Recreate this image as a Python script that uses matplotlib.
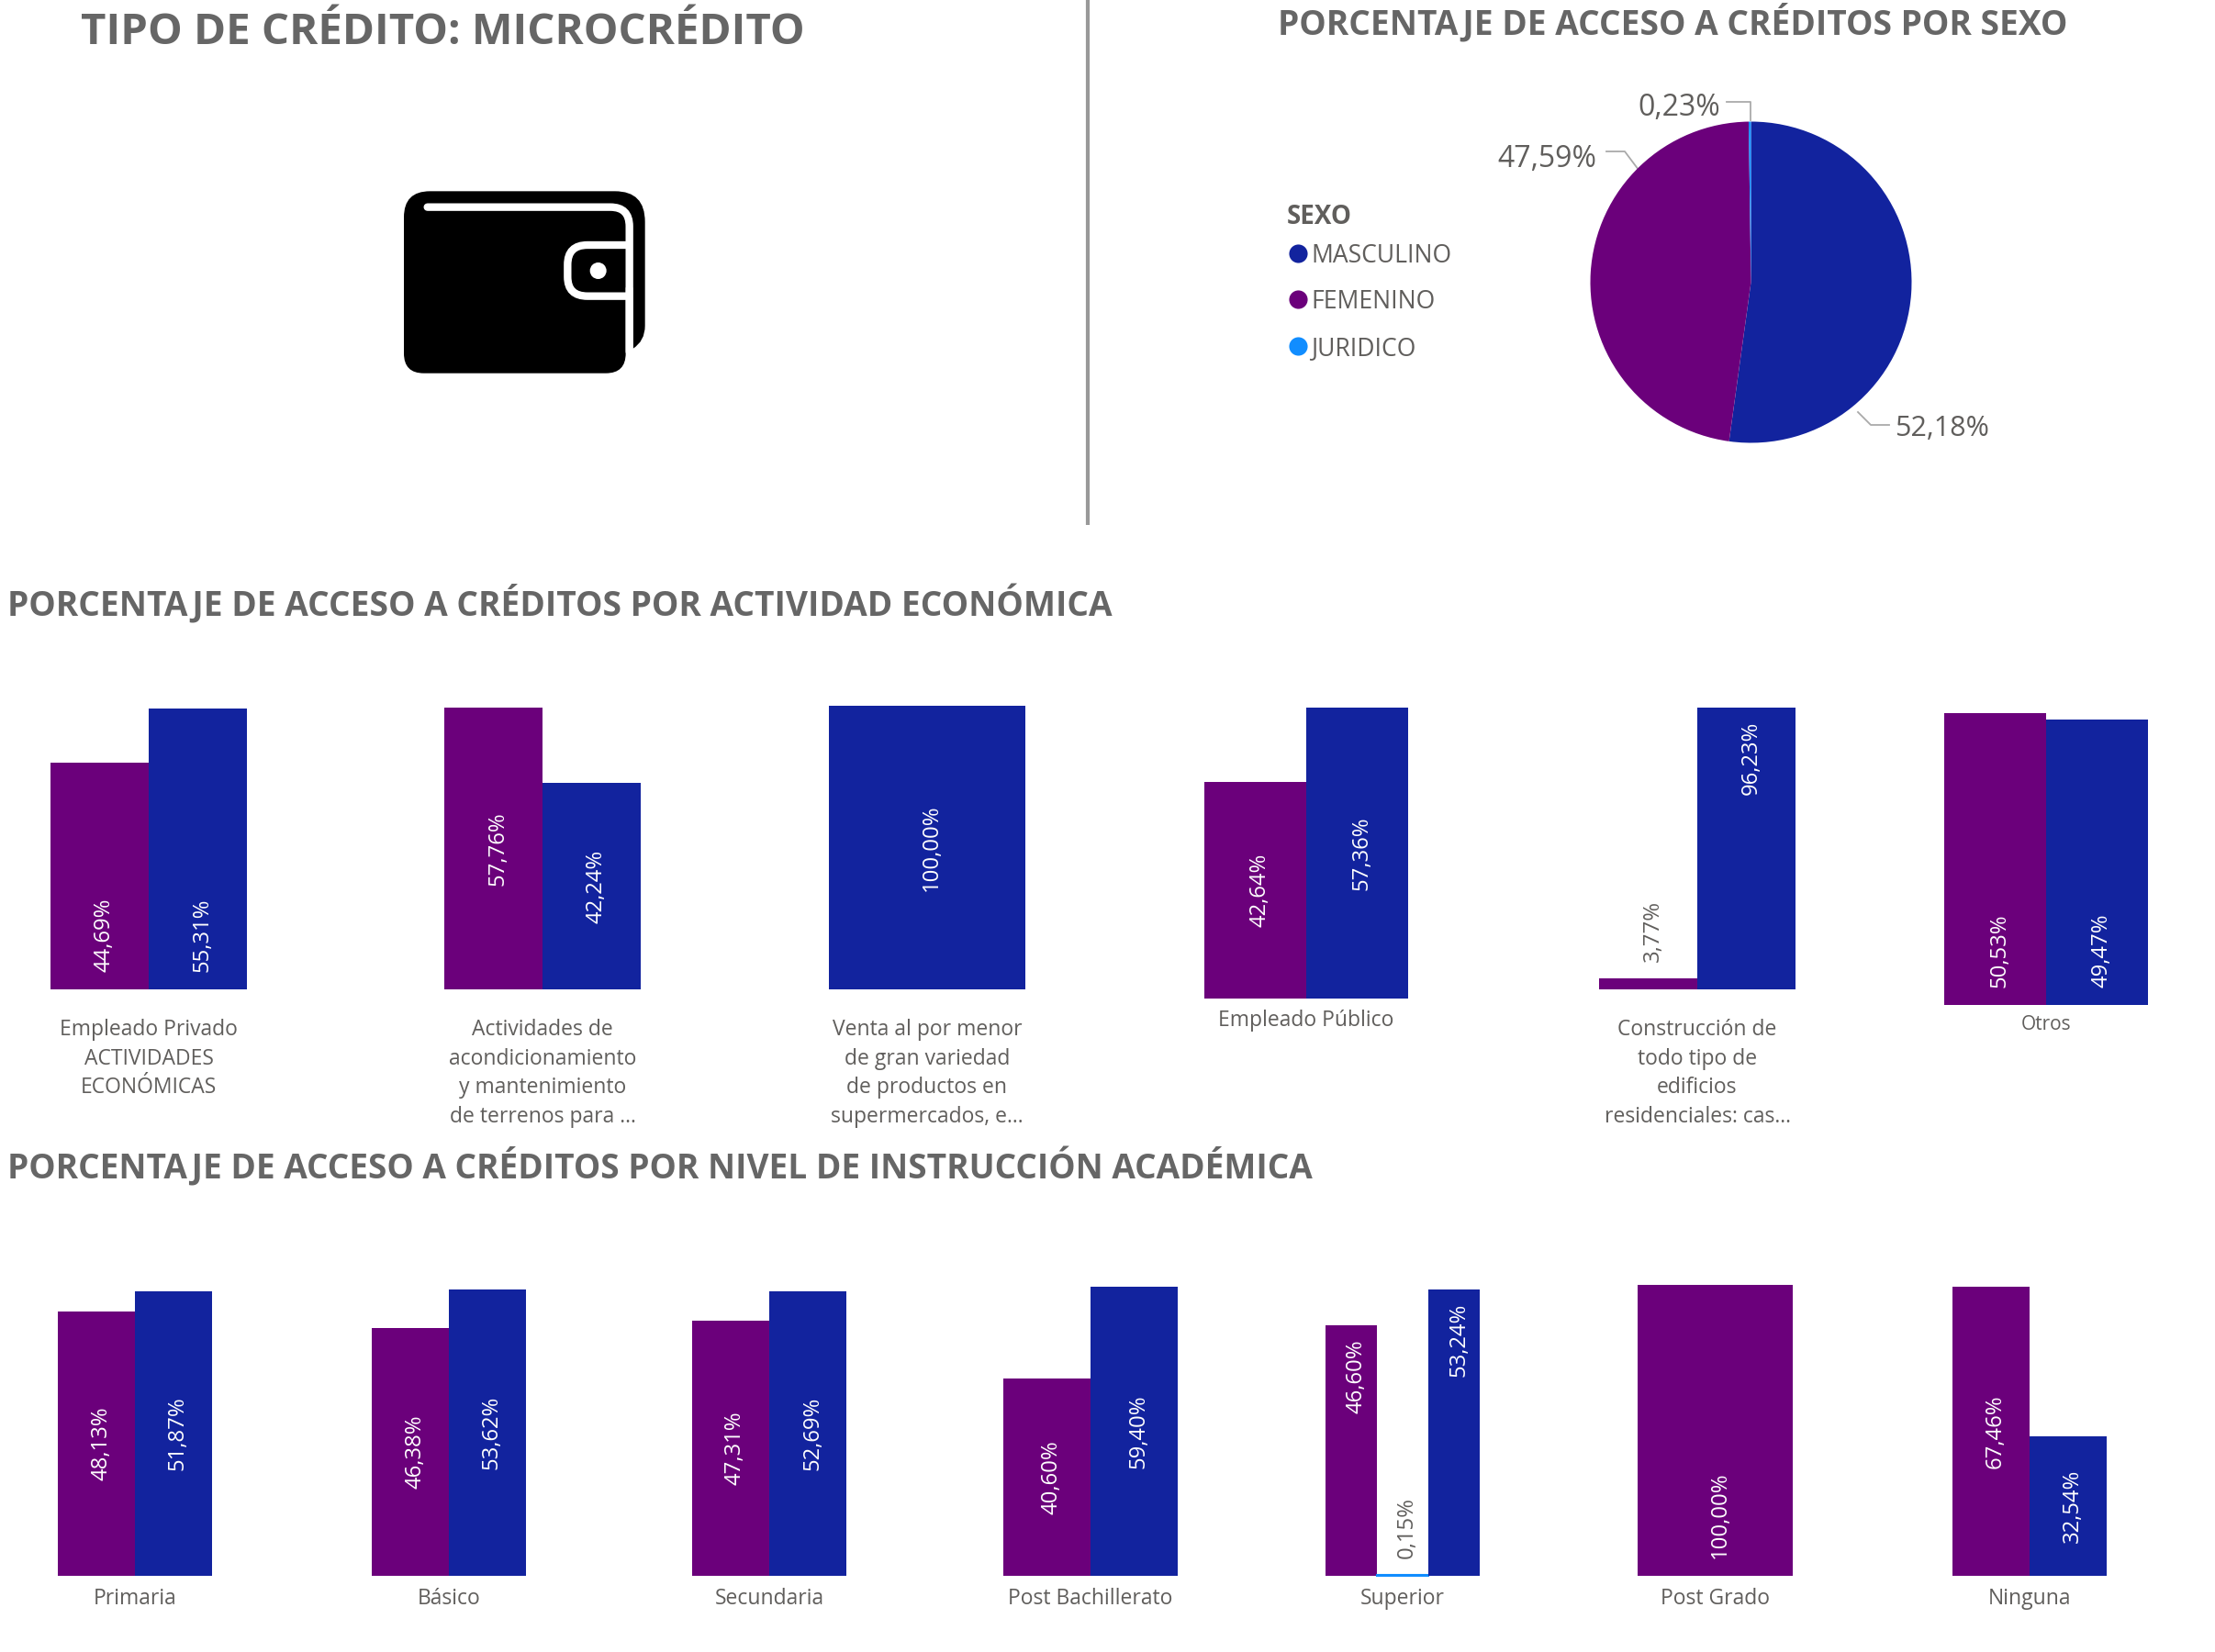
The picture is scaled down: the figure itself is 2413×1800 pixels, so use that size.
import numpy as np
import matplotlib
matplotlib.use('Agg')
import matplotlib.pyplot as plt
from matplotlib.path import Path
from matplotlib.patches import PathPatch, Circle

W, H = 2413, 1800
plt.rcParams['font.family'] = ['Open Sans', 'DejaVu Sans']

MASC = '#12239E'
FEM = '#6B007B'
JUR = '#118DFF'
GRIS = '#605E5C'
TITULO = '#666666'

sexo_names = ['MASCULINO', 'FEMENINO', 'JURIDICO']
sexo_values = [52.18, 47.59, 0.23]

actividad_labels = ['Empleado Privado\nACTIVIDADES\nECONÓMICAS',
                    'Actividades de\nacondicionamiento\ny mantenimiento\nde terrenos para ...',
                    'Venta al por menor\nde gran variedad\nde productos en\nsupermercados, e...',
                    'Empleado Público',
                    'Construcción de\ntodo tipo de\nedificios\nresidenciales: cas...',
                    'Otros']
actividad_fem = [44.69, 57.76, None, 42.64, 3.77, 50.53]
actividad_jur = [None, None, None, None, None, None]
actividad_masc = [55.31, 42.24, 100.00, 57.36, 96.23, 49.47]

nivel_labels = ['Primaria', 'Básico', 'Secundaria', 'Post Bachillerato',
                'Superior', 'Post Grado', 'Ninguna']
nivel_fem = [48.13, 46.38, 47.31, 40.60, 46.60, 100.00, 67.46]
nivel_jur = [None, None, None, None, 0.15, None, None]
nivel_masc = [51.87, 53.62, 52.69, 59.40, 53.24, None, 32.54]

# where each label sits in its bar: b=base c=center e=end o=outside
actividad_pos_fem = ['b', 'c', None, 'c', 'o', 'b']
actividad_pos_masc = ['b', 'c', 'c', 'c', 'e', 'b']
nivel_pos_fem = ['c', 'c', 'c', 'c', 'e', 'b', 'c']
nivel_pos_masc = ['c', 'c', 'c', 'c', 'e', None, 'c']

# panel boxes in pixels: left, right, top, base
actividad_box = [(55, 269, 772, 1078), (484, 698, 771, 1078), (903, 1117, 769, 1078),
                 (1312, 1534, 771, 1088), (1742, 1956, 771, 1078), (2118, 2340, 777, 1095)]
nivel_box = [(63, 231, 1407, 1717), (405, 573, 1405, 1717), (754, 922, 1407, 1717),
             (1093, 1283, 1402, 1717), (1444, 1612, 1405, 1717), (1784, 1953, 1400, 1717),
             (2127, 2295, 1402, 1717)]
actividad_pad = [23, 23, 23, 8.5, 23, 8]
nivel_pad = [9.5, 9.5, 9.5, 9.5, 9.5, 9.5, 9.5]
actividad_size = [16.5, 16.5, 16.5, 16.5, 16.5, 15]
nivel_size = [16.5, 16.5, 16.5, 16.5, 16.5, 16.5, 16.5]

fig = plt.figure(figsize=(W / 100, H / 100), dpi=100)

# overlay in pixel coords for titles, divider, icon
bg = fig.add_axes([0, 0, 1, 1])
bg.set_xlim(0, W)
bg.set_ylim(H, 0)
bg.axis('off')


def px_axes(left, right, top, base):
    return fig.add_axes([left / W, 1 - base / H, (right - left) / W, (base - top) / H])


def fmt(v):
    return f'{v:.2f}%'.replace('.', ',')


def panel(box, label, fem, jur, masc, pos_f, pos_m, pad, size):
    ax = px_axes(*box)
    series = []
    if fem is not None:
        series.append((fem, FEM, pos_f))
    if jur is not None:
        series.append((jur, JUR, 'o'))
    if masc is not None:
        series.append((masc, MASC, pos_m))
    top = max(s[0] for s in series)
    for i, (v, col, pos) in enumerate(series):
        lw = 1.5 if v < 1 else 0
        ax.bar(i, v, width=1.0, color=col, edgecolor=col, linewidth=lw, clip_on=False)
        hpx = box[3] - box[2]
        c = 'white'
        if pos == 'c':
            y, va = v / 2, 'center'
        elif pos == 'b':
            y, va = 19 * top / hpx, 'bottom'
        elif pos == 'e':
            y, va = v - 15 * top / hpx, 'top'
        else:
            y, va = v + 18 * top / hpx, 'bottom'
            c = GRIS
        # text sits a bit right of the bar center
        ax.annotate(fmt(v), (i, y), xytext=(3.6, 0), textcoords='offset points', rotation=90,
                    ha='center', va=va, color=c, fontsize=17.2, fontweight='medium')
    ax.set_xlim(-0.5, len(series) - 0.5)
    ax.set_ylim(0, top)
    ax.set_xticks([(len(series) - 1) / 2])
    ax.set_xticklabels([label], fontsize=size, color=GRIS, linespacing=1.43)
    ax.tick_params(axis='x', length=0, pad=pad)
    ax.set_yticks([])
    for s in ax.spines.values():
        s.set_visible(False)
    ax.patch.set_alpha(0)
    return ax


for i in range(len(actividad_labels)):
    panel(actividad_box[i], actividad_labels[i], actividad_fem[i], actividad_jur[i],
          actividad_masc[i], actividad_pos_fem[i], actividad_pos_masc[i], actividad_pad[i],
          actividad_size[i])

for i in range(len(nivel_labels)):
    panel(nivel_box[i], nivel_labels[i], nivel_fem[i], nivel_jur[i],
          nivel_masc[i], nivel_pos_fem[i], nivel_pos_masc[i], nivel_pad[i], nivel_size[i])

# titles
bg.text(88, 36, 'TIPO DE CRÉDITO: MICROCRÉDITO', fontsize=34.1, fontweight='bold',
        color=TITULO, va='center')
bg.text(1392, 25, 'PORCENTAJE DE ACCESO A CRÉDITOS POR SEXO', fontsize=26.7, fontweight='bold',
        color=TITULO, va='center')
bg.text(8, 659, 'PORCENTAJE DE ACCESO A CRÉDITOS POR ACTIVIDAD ECONÓMICA', fontsize=26.75,
        fontweight='bold', color=TITULO, va='center')
bg.text(8, 1272, 'PORCENTAJE DE ACCESO A CRÉDITOS POR NIVEL DE INSTRUCCIÓN ACADÉMICA', fontsize=26.67,
        fontweight='bold', color=TITULO, va='center')

# divider
bg.plot([1185, 1185], [0, 572], color='#999999', lw=3, solid_capstyle='butt')

# pie
pie_ax = fig.add_axes([(1907.5 - 175) / W, 1 - (307.5 + 175) / H, 350 / W, 350 / H])
pie_ax.pie(sexo_values, colors=[MASC, FEM, JUR], startangle=90, counterclock=False, radius=1.0)
pie_ax.set_xlim(-1, 1)
pie_ax.set_ylim(-1, 1)

LEADER = '#AAAAAA'
bg.plot([1881, 1907, 1907], [111, 111, 131], color=LEADER, lw=1.3)
bg.plot([1750, 1770, 1785], [165, 165, 185], color=LEADER, lw=1.3)
bg.plot([2058, 2038, 2024], [463, 463, 449], color=LEADER, lw=1.3)
bg.text(1874, 118, fmt(sexo_values[2]), fontsize=23, color=GRIS, ha='right', va='center')
bg.text(1739, 173, fmt(sexo_values[1]), fontsize=23, color=GRIS, ha='right', va='center')
bg.text(2064, 467, fmt(sexo_values[0]), fontsize=22, color=GRIS, ha='left', va='center')

# legend
bg.text(1402, 236, 'SEXO', fontsize=20, fontweight='bold', color=GRIS, va='center')
for name, col, y in zip(sexo_names, [MASC, FEM, JUR], [276, 326, 377]):
    bg.plot([1414], [y], 'o', color=col, ms=14.5, mew=0)
    bg.text(1428, y + 3, name, fontsize=19.1, color=GRIS, va='center')


# wallet icon, drawn in the 3x crop coords around (400, 180)
def ic(p):
    return (p[0] / 3 + 400, p[1] / 3 + 180)


def shape(verts, codes, **kw):
    bg.add_patch(PathPatch(Path([ic(v) for v in verts], codes), **kw))


M, L, C = Path.MOVETO, Path.LINETO, Path.CURVE3
# back leaf
shape([(205, 85), (810, 85), (908, 85), (908, 185), (908, 525), (908, 575), (868, 600),
       (868, 400), (120, 400), (120, 170), (120, 85), (205, 85)],
      [M, L, C, C, L, C, C, L, L, L, C, C], fc='black', ec='none')
# front leaf
shape([(120, 200), (845, 200), (845, 615), (845, 680), (780, 680), (185, 680), (120, 680), (120, 615), (120, 200)],
      [M, L, L, C, C, L, C, C, L], fc='black', ec='none')
# white strokes
shape([(197, 137), (795, 137), (857, 137), (857, 200), (857, 610)],
      [M, L, C, C, L], fc='none', ec='white', lw=6, capstyle='round')
shape([(857, 261), (720, 261), (655, 261), (655, 325), (655, 365), (655, 428), (720, 428), (857, 428)],
      [M, L, C, C, L, C, C, L], fc='none', ec='white', lw=6, capstyle='butt')
bg.add_patch(Circle(ic((755, 345)), 9, fc='white', ec='none'))

fig.savefig('out.png', dpi=100, facecolor='white')
